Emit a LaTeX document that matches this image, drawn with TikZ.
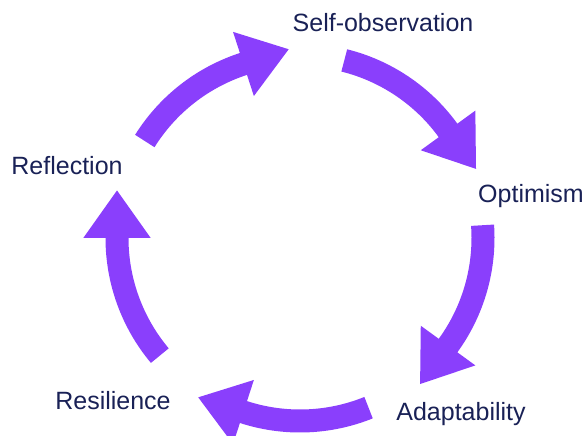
\documentclass[tikz,border=0pt]{standalone}
\usepackage{fontspec}
\setmainfont{Liberation Sans}
\usetikzlibrary{arrows.meta}
\definecolor{cyclepurple}{RGB}{138,63,252}
\definecolor{labelnavy}{RGB}{25,33,86}
\begin{document}
\begin{tikzpicture}[x=1pt,y=1pt,
  cyc/.style={line width=23pt,cyclepurple,-{Triangle[length=48pt,width=64pt]}},
  lab/.style={anchor=base,text=labelnavy,inner sep=0pt,font=\fontsize{25}{30}\selectfont}]
\useasboundingbox (0,0) rectangle (586,436);
\node[lab] (self) at (383,404) {Self-observation};
\node[lab] (optimism) at (531,233) {Optimism};
\node[lab] (adapt) at (461,15) {Adaptability};
\node[lab] (resilience) at (113,26) {Resilience};
\node[lab] (reflection) at (67,261) {Reflection};
\coordinate (hub) at (300,198);
\draw[cyc] (hub) ++(148:183) arc[start angle=148,end angle=108,radius=183] -- ++(18:48);
\draw[cyc] (hub) ++(76:183) arc[start angle=76,end angle=36,radius=183] -- ++(-54:48);
\draw[cyc] (hub) ++(4:183) arc[start angle=4,end angle=-36,radius=183] -- ++(-126:48);
\draw[cyc] (hub) ++(-68:183) arc[start angle=-68,end angle=-108,radius=183] -- ++(162:48);
\draw[cyc] (hub) ++(-140:183) arc[start angle=-140,end angle=-180,radius=183] -- ++(90:48);
\end{tikzpicture}
\end{document}
